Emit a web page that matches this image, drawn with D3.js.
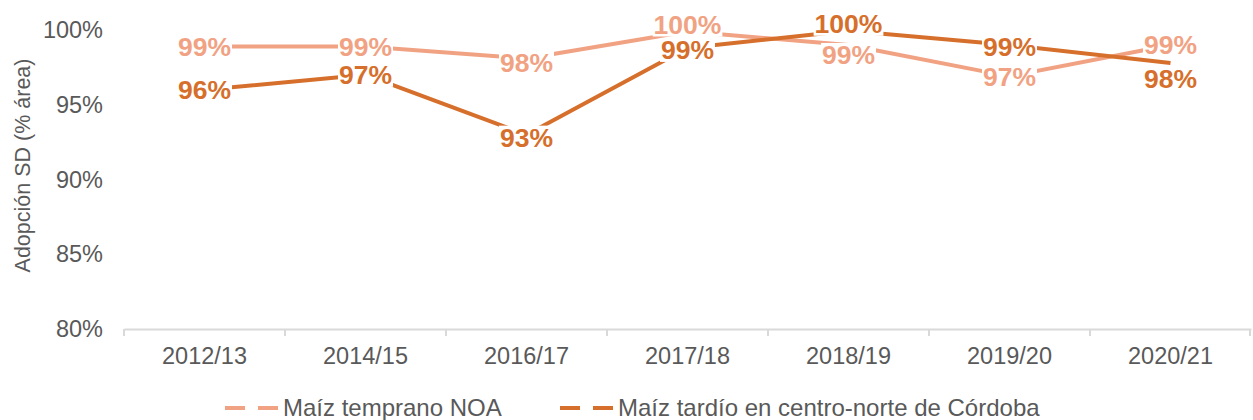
<!DOCTYPE html>
<html>
<head>
<meta charset="utf-8">
<script src="https://d3js.org/d3.v7.min.js"></script>
<style>
  body { margin: 0; background: #fff; }
  svg { font-family: "Liberation Sans", Arial, sans-serif; }
</style>
</head>
<body>
<svg width="1253" height="420"></svg>
<script>
// data
const seasons = ["2012/13", "2014/15", "2016/17", "2017/18", "2018/19", "2019/20", "2020/21"];
const temprano = [98.9, 98.9, 98.1, 99.9, 99.0, 96.9, 99.0];
const tardio = [96.0, 97.0, 93.0, 98.8, 99.95, 99.0, 97.8];
const yTicks = [80, 85, 90, 95, 100];
const seriesNames = ["Maíz temprano NOA", "Maíz tardío en centro-norte de Córdoba"];
const colors = ["#F1A283", "#D66F2B"];
// manual label nudges (px), as in the original
const shiftTemprano = [0, 0, 4, -7, 10, 0, 0];
const shiftTardio = [0, 0, 3, 2, -7, 2, 16];

const svg = d3.select("svg");
const margin = {left: 124, right: 2, top: 30, bottom: 91};
const W = 1253, H = 420;

const x = d3.scaleBand().domain(seasons).range([margin.left, W - margin.right]);
const y = d3.scaleLinear().domain([80, 100]).range([H - margin.bottom, margin.top]);

// y tick labels
svg.append("g").selectAll("text").data(yTicks).join("text")
  .attr("x", 103).attr("y", d => y(d)).attr("dy", "0.35em")
  .attr("text-anchor", "end").attr("fill", "#595959").attr("font-size", 23.5)
  .text(d => d + "%");

// y title
svg.append("text")
  .attr("transform", `translate(30,${(y(80) + y(100)) / 2 - 14}) rotate(-90)`)
  .attr("text-anchor", "middle").attr("fill", "#595959").attr("font-size", 21.5)
  .text("Adopción SD (% área)");

// x axis
const xAxis = svg.append("g").attr("transform", `translate(0,${y(80)})`)
  .call(d3.axisBottom(x).tickSize(0).tickPadding(18));
xAxis.select(".domain").attr("stroke", "#d9d9d9").attr("stroke-width", 2);
xAxis.selectAll("text").attr("fill", "#595959").attr("font-size", 23.5)
  .attr("font-family", "Liberation Sans, Arial, sans-serif");
const bounds = seasons.map(s => x(s)).concat([x.range()[1] - 1]);
xAxis.selectAll(".sep").data(bounds).join("line")
  .attr("x1", d => d).attr("x2", d => d).attr("y1", 0).attr("y2", 7)
  .attr("stroke", "#d9d9d9").attr("stroke-width", 2);

const cx = s => x(s) + x.bandwidth() / 2;
const line = d3.line().x(d => cx(d.s)).y(d => y(d.v));

const series = [
  {vals: temprano, shift: shiftTemprano, color: colors[0]},
  {vals: tardio, shift: shiftTardio, color: colors[1]}
];

series.forEach(sr => {
  svg.append("path")
    .datum(seasons.map((s, i) => ({s, v: sr.vals[i]})))
    .attr("d", line).attr("fill", "none")
    .attr("stroke", sr.color).attr("stroke-width", 4).attr("stroke-linejoin", "round");
});

// data labels with white boxes that hide the line underneath
series.forEach(sr => {
  const g = svg.append("g");
  seasons.forEach((s, i) => {
    const ly = y(sr.vals[i]) + sr.shift[i];
    const t = Math.round(sr.vals[i]) + "%";
    const lg = g.append("g").attr("transform", `translate(${cx(s)},${ly})`);
    const txt = lg.append("text").attr("text-anchor", "middle").attr("dy", "0.36em")
      .attr("font-size", 26.5).attr("font-weight", "bold").attr("fill", sr.color).text(t);
    const bb = txt.node().getBBox();
    lg.insert("rect", "text")
      .attr("x", bb.x - 1).attr("y", -12).attr("width", bb.width + 2).attr("height", 24)
      .attr("fill", "#fff");
  });
});

// legend
const leg = svg.append("g").attr("transform", "translate(225,408)");
const legX = [0, 335];
seriesNames.forEach((n, i) => {
  const lg = leg.append("g").attr("transform", `translate(${legX[i]},0)`);
  lg.append("line").attr("x1", 0).attr("x2", 54).attr("stroke", colors[i])
    .attr("stroke-width", 4).attr("stroke-dasharray", "20,13");
  lg.append("text").attr("x", 58).attr("dy", "0.35em").attr("font-size", 24)
    .attr("fill", "#595959").text(n);
});
</script>
</body>
</html>
